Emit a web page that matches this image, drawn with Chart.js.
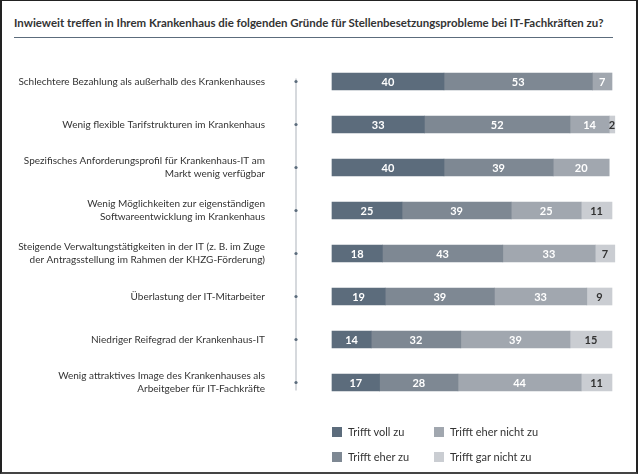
<!DOCTYPE html>
<html lang="de">
<head>
<meta charset="utf-8">
<title>Stellenbesetzungsprobleme bei IT-Fachkräften</title>
<script src="https://cdn.jsdelivr.net/npm/chart.js@4.4.1/dist/chart.umd.min.js"></script>
<style>
  html, body { margin: 0; padding: 0; background: #fff; }
  #frame { position: relative; width: 640px; height: 476px; overflow: hidden; background: #fff; font-family: Lato, "Open Sans", sans-serif; color: #333; }
  #box { position: absolute; left: 0; top: 0; width: 634px; height: 471px; border-left: 2px solid #222; border-top: 1px solid #222; border-right: 2px solid #222; border-bottom: 2px solid #444; }
  #title { position: absolute; left: 14px; top: 15px; width: 599px; padding-bottom: 7px; border-bottom: 1px solid #5c6c7c; font-size: 12.5px; font-weight: 700; white-space: nowrap; }
  #title span { display: inline-block; }
  #chart { position: absolute; left: 0; top: 0; }
  .lg { position: absolute; font-size: 11px; line-height: 12px; white-space: nowrap; }
  .lg span { position: absolute; left: 0; top: 1px; width: 10px; height: 10px; }
  .lg b { font-weight: 400; margin-left: 16px; }
</style>
</head>
<body>
<div id="frame">
  <div id="box"></div>
  <div id="title"><span>Inwieweit treffen in Ihrem Krankenhaus die folgenden Gründe für Stellenbesetzungsprobleme bei IT-Fachkräften zu?</span></div>
  <canvas id="chart" width="640" height="476"></canvas>
  <div id="legend"></div>
</div>
<script>
const categories = [
  'Schlechtere Bezahlung als außerhalb des Krankenhauses',
  'Wenig flexible Tarifstrukturen im Krankenhaus',
  ['Spezifisches Anforderungsprofil für Krankenhaus-IT am', 'Markt wenig verfügbar'],
  ['Wenig Möglichkeiten zur eigenständigen', 'Softwareentwicklung im Krankenhaus'],
  ['Steigende Verwaltungstätigkeiten in der IT (z. B. im Zuge', 'der Antragsstellung im Rahmen der KHZG-Förderung)'],
  'Überlastung der IT-Mitarbeiter',
  'Niedriger Reifegrad der Krankenhaus-IT',
  ['Wenig attraktives Image des Krankenhauses als', 'Arbeitgeber für IT-Fachkräfte']
];
const seriesNames = ['Trifft voll zu', 'Trifft eher zu', 'Trifft eher nicht zu', 'Trifft gar nicht zu'];
const trifftVoll      = [40, 33, 40, 25, 18, 19, 14, 17];
const trifftEher      = [53, 52, 39, 39, 43, 39, 32, 28];
const trifftEherNicht = [7, 14, 20, 25, 33, 33, 39, 44];
const trifftGarNicht  = [null, 2, null, 11, 7, 9, 15, 11];
const colors = ['#5c6c7c', '#7e8893', '#a1a7af', '#cacdd2'];

// squeeze the title to the width it has in the print layout
const titleSpan = document.querySelector('#title span');
titleSpan.style.fontSize = (12.5 * 590 / titleSpan.getBoundingClientRect().width) + 'px';

// numbers inside the bar segments
const valueLabels = {
  id: 'valueLabels',
  afterDatasetsDraw(chart) {
    const ctx = chart.ctx;
    ctx.save();
    ctx.font = 'bold 11px Lato';
    ctx.textAlign = 'center';
    ctx.textBaseline = 'middle';
    chart.data.datasets.forEach((ds, i) => {
      chart.getDatasetMeta(i).data.forEach((bar, j) => {
        const v = ds.data[j];
        if (v == null) return;
        ctx.fillStyle = i === 3 ? '#333' : '#fff';
        ctx.fillText(v, (bar.x + bar.base) / 2, bar.y + 0.5);
      });
    });
    ctx.restore();
  }
};

// vertical line with dots left of the bars
const categoryLine = {
  id: 'categoryLine',
  beforeDatasetsDraw(chart) {
    const ctx = chart.ctx;
    const y = chart.scales.y;
    const x = chart.chartArea.left - 36;
    const first = y.getPixelForValue(0), last = y.getPixelForValue(categories.length - 1);
    ctx.save();
    ctx.strokeStyle = '#c9cdd2';
    ctx.lineWidth = 1.5;
    ctx.beginPath();
    ctx.moveTo(x, first - 3);
    ctx.lineTo(x, last + 8);
    ctx.stroke();
    ctx.fillStyle = '#5c6c7c';
    categories.forEach((c, i) => {
      ctx.beginPath();
      ctx.arc(x, y.getPixelForValue(i), 1.6, 0, Math.PI * 2);
      ctx.fill();
    });
    ctx.restore();
  }
};

const ctx = document.getElementById('chart').getContext('2d');
const chart = new Chart(ctx, {
  type: 'bar',
  data: {
    labels: categories,
    datasets: [trifftVoll, trifftEher, trifftEherNicht, trifftGarNicht].map((d, i) => ({
      label: seriesNames[i],
      data: d,
      backgroundColor: colors[i],
      borderWidth: 0,
      barThickness: 17,
      clip: false
    }))
  },
  options: {
    indexAxis: 'y',
    responsive: false,
    animation: false,
    layout: { padding: { left: 0, right: 28, top: 60, bottom: 72 } },
    plugins: { legend: { display: false }, tooltip: { enabled: false } },
    scales: {
      x: { display: false, stacked: true, min: 0, max: 100 },
      y: {
        stacked: true,
        grid: { display: false },
        border: { display: false },
        afterFit(scale) {
          scale.width = 332;
          scale.paddingTop = 0;
          scale.paddingBottom = 0;
        },
        ticks: {
          autoSkip: false,
          padding: 59,
          color: '#333',
          font: { family: 'Lato', size: 10, lineHeight: 1.25 }
        }
      }
    }
  },
  plugins: [categoryLine, valueLabels]
});

// legend in two columns, filled column by column
const legend = document.getElementById('legend');
chart.data.datasets.forEach((ds, i) => {
  const item = document.createElement('div');
  item.className = 'lg';
  item.style.left = (i < 2 ? 332 : 434) + 'px';
  item.style.top = (i % 2 === 0 ? 426 : 451) + 'px';
  item.innerHTML = '<span style="background:' + ds.backgroundColor + '"></span><b>' + ds.label + '</b>';
  legend.appendChild(item);
});
</script>
</body>
</html>
